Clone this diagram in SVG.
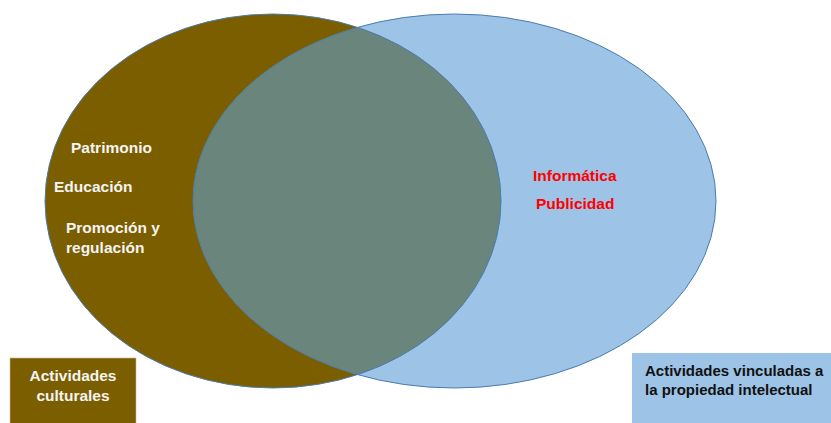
<svg xmlns="http://www.w3.org/2000/svg" width="831" height="423" viewBox="0 0 831 423">
<style>
.lbl{font-family:"Liberation Sans",Arial,sans-serif;font-weight:bold;font-size:15.5px}
.sm{font-size:15px}
.w{fill:#f4f4f4}
.r{fill:#ff0000}
.k{fill:#111111}
.edge{fill:none;stroke:#4a7cae;stroke-width:1}
</style>
<defs>
<clipPath id="clipBlue"><ellipse cx="454.5" cy="201" rx="261.5" ry="187"/></clipPath>
</defs>
<rect width="831" height="423" fill="#ffffff"/>
<g id="cultural">
<ellipse cx="273" cy="201" rx="228" ry="187" fill="#7b5e00"/>
</g>
<g id="intelectual">
<ellipse cx="454.5" cy="201" rx="261.5" ry="187" fill="#9dc3e6"/>
</g>
<g id="overlap">
<ellipse cx="273" cy="201" rx="228" ry="187" fill="#6a857c" clip-path="url(#clipBlue)"/>
</g>
<g id="outlines">
<ellipse class="edge" cx="273" cy="201" rx="228" ry="187"/>
<ellipse class="edge" cx="454.5" cy="201" rx="261.5" ry="187"/>
</g>
<g id="left-items">
<text class="lbl w" x="71" y="153">Patrimonio</text>
<text class="lbl w" x="54" y="192">Educación</text>
<text class="lbl w" x="66" y="233">Promoción y</text>
<text class="lbl w" x="66" y="253">regulación</text>
</g>
<g id="right-items">
<text class="lbl r" x="533" y="181">Informática</text>
<text class="lbl r" x="536" y="209">Publicidad</text>
</g>
<g id="box-culturales">
<rect x="10" y="358" width="126" height="70" fill="#7b5e00" stroke="#c9b98a" stroke-width="0.6"/>
<text class="lbl w" x="73" y="381" text-anchor="middle">Actividades</text>
<text class="lbl w" x="73" y="401" text-anchor="middle">culturales</text>
</g>
<g id="box-intelectual">
<rect x="632" y="353" width="205" height="75" fill="#9dc3e6"/>
<text class="lbl sm k" x="645" y="376">Actividades vinculadas a</text>
<text class="lbl sm k" x="645" y="395">la propiedad intelectual</text>
</g>
</svg>
